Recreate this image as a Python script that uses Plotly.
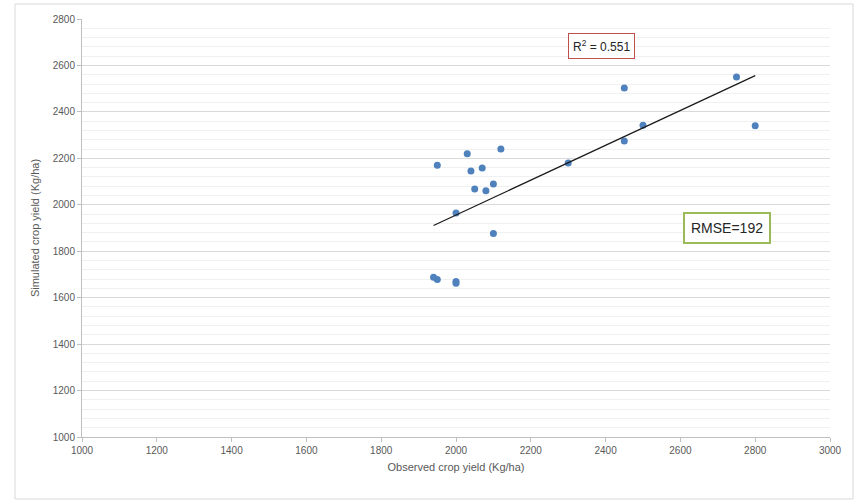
import numpy as np
import plotly.graph_objects as go

# Observed vs simulated crop yield (Kg/ha)
observed = [1950, 2030, 2040, 2070, 2120, 2050, 2080, 2100, 2000, 2100,
            1940, 1950, 2000, 2000, 2300, 2450, 2450, 2500, 2750, 2800]
simulated = [2170, 2220, 2145, 2158, 2240, 2068, 2060, 2090, 1965, 1876,
             1688, 1678, 1670, 1662, 2180, 2503, 2275, 2343, 2550, 2340]

r2_label = "R<sup>2</sup> = 0.551"
rmse_label = "RMSE=192"

x_ticks = list(range(1000, 3001, 200))
y_ticks = list(range(1000, 2801, 200))

# Linear trend line across the observed range
slope, intercept = np.polyfit(observed, simulated, 1)
tx = np.array([min(observed), max(observed)])
ty = slope * tx + intercept

font_family = "Liberation Sans Narrow, Liberation Sans, Arial"
txt_col = "#595959"

fig = go.Figure()
fig.add_trace(go.Scatter(
    x=observed, y=simulated, mode="markers",
    marker=dict(color="#4f81bd", size=7, line=dict(width=0)),
    showlegend=False, hoverinfo="x+y"))
fig.add_trace(go.Scatter(
    x=tx, y=ty, mode="lines",
    line=dict(color="#1a1a1a", width=1.2),
    showlegend=False, hoverinfo="skip"))

axis_common = dict(
    showline=True, linecolor="#bfbfbf", linewidth=1,
    ticks="outside", ticklen=4, tickcolor="#bfbfbf",
    tickfont=dict(family=font_family, size=10, color=txt_col),
    zeroline=False,
)

fig.update_xaxes(
    range=[1000, 3000], tickvals=x_ticks, showgrid=False,
    title=dict(text="Observed crop yield (Kg/ha)",
               font=dict(family=font_family, size=11, color=txt_col),
               standoff=8),
    **axis_common)
fig.update_yaxes(
    range=[1000, 2800], tickvals=y_ticks,
    showgrid=True, gridcolor="#d9d9d9", gridwidth=1,
    minor=dict(dtick=40, showgrid=True, gridcolor="#f0f0f0", gridwidth=1),
    title=dict(text="Simulated crop yield (Kg/ha)",
               font=dict(family=font_family, size=11, color=txt_col),
               standoff=10),
    **axis_common)

fig.add_annotation(
    x=2390, y=2684, xref="x", yref="y",
    text=r2_label, showarrow=False,
    font=dict(family=font_family, size=12, color="#262626"),
    bordercolor="#c0504d", borderwidth=1, borderpad=4, bgcolor="white")
fig.add_annotation(
    x=2725, y=1900, xref="x", yref="y",
    text=rmse_label, showarrow=False,
    font=dict(family=font_family, size=14, color="#262626"),
    bordercolor="#9bbb59", borderwidth=2, borderpad=6, bgcolor="white")

# Outer chart frame
fig.add_shape(type="rect", xref="paper", yref="paper",
              x0=(15 - 82) / 748, x1=(853 - 82) / 748,
              y0=-(499 - 437) / 418, y1=1 + (19 - 4) / 418,
              line=dict(color="#d9d9d9", width=1), layer="below")

fig.update_layout(
    width=855, height=500,
    margin=dict(l=82, r=25, t=19, b=63),
    paper_bgcolor="white", plot_bgcolor="white",
    font=dict(family=font_family),
)

fig.write_html("out.html")
